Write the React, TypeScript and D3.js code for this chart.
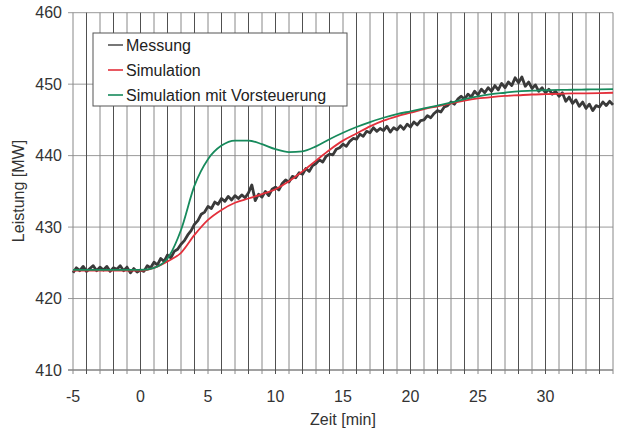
import React from "react";
import * as d3 from "d3";

const X_START = -5;
const X_STEP_MEAS = 0.25;
const messung: number[] = [
  423.6, 424.3, 423.9, 424.5, 423.8, 424.2, 424.6, 423.9, 424.4, 424.0,
  424.5, 423.8, 424.3, 424.1, 424.6, 423.9, 424.4, 423.6, 424.2, 423.7,
  424.0, 423.8, 424.6, 424.3, 425.1, 424.7, 425.6, 425.2, 426.1, 425.7,
  426.6, 426.9, 427.6, 428.1, 428.9, 429.5, 430.4, 430.9, 431.8, 432.1,
  432.9, 432.6, 433.5, 433.2, 434.0, 433.6, 434.3, 433.8, 434.4, 434.0,
  434.5, 434.1, 434.8, 435.9, 433.7, 434.6, 434.2, 435.0, 434.4, 435.3,
  435.6, 435.2, 436.1, 436.6, 436.3, 437.1, 436.9, 437.6, 437.4, 438.2,
  437.8, 438.6, 438.9, 439.4, 439.1, 439.9, 440.2, 440.1, 440.9, 441.1,
  441.6, 441.3, 442.0, 442.4, 442.3, 443.0, 442.7, 443.4, 443.2, 443.9,
  443.4, 443.8, 443.5, 444.1, 443.3, 443.9, 443.6, 444.2, 443.7, 444.4,
  444.0, 444.7, 444.3, 444.9, 445.0, 445.6, 445.3, 445.9, 446.3, 446.1,
  446.8, 447.0, 447.5, 447.2, 447.9, 448.3, 447.9, 448.6, 448.2, 449.0,
  448.5, 449.3, 448.8, 449.5, 449.0, 449.8, 449.2, 450.1, 449.5, 450.3,
  449.8, 450.9, 450.2, 451.0, 449.7, 450.3, 449.4, 449.9, 449.0, 449.5,
  448.8, 449.3, 448.6, 449.0, 448.3, 448.8, 447.6, 448.2, 447.3, 447.8,
  446.9, 447.5, 446.6, 447.2, 446.3, 447.0, 446.8, 447.5, 447.0, 447.6,
  447.1,
];

const simX: number[] = [
  -5, -4, -3, -2, -1, 0, 1, 2, 3, 4, 5, 6, 7, 8, 9, 10, 11, 12, 13, 14, 15,
  16, 17, 18, 19, 20, 21, 22, 23, 24, 25, 26, 27, 28, 29, 30, 31, 32, 33, 34, 35,
];
const simulation: number[] = [
  423.9, 423.9, 423.9, 423.9, 423.9, 423.9, 424.3, 425.2, 426.4, 428.9,
  431.0, 432.4, 433.4, 434.0, 434.6, 435.3, 436.4, 437.8, 439.3, 440.8,
  442.1, 443.1, 444.1, 444.9, 445.5, 446.0, 446.5, 446.9, 447.3, 447.7,
  448.0, 448.2, 448.35, 448.45, 448.55, 448.6, 448.65, 448.7, 448.72, 448.75, 448.8,
];
const vorsteuerung: number[] = [
  424.0, 424.0, 424.0, 424.0, 424.0, 424.0, 424.3, 425.6, 429.6, 435.8,
  439.5, 441.4, 442.1, 442.1, 441.6, 440.9, 440.5, 440.6, 441.3, 442.3,
  443.2, 444.0, 444.7, 445.3, 445.8, 446.2, 446.6, 447.0, 447.4, 447.9,
  448.3, 448.6, 448.8, 449.0, 449.1, 449.15, 449.2, 449.22, 449.25, 449.28, 449.3,
];

const xTicks = [-5, 0, 5, 10, 15, 20, 25, 30];
const yTicks = [410, 420, 430, 440, 450, 460];
const legendLabels = ["Messung", "Simulation", "Simulation mit Vorsteuerung"];
const colors = ["#3a3a3a", "#e3303b", "#178a5c"];

export default function App() {
  const W = 618;
  const H = 428;
  const x = d3.scaleLinear().domain([-5, 35]).range([73, 613]);
  const y = d3.scaleLinear().domain([410, 460]).range([370, 12.7]);
  const font = "'Liberation Sans', Arial, sans-serif";
  const textColor = "#333";

  const measPts: [number, number][] = messung.map((v, i) => [X_START + i * X_STEP_MEAS, v]);
  const line = d3
    .line<[number, number]>()
    .x((d) => x(d[0]))
    .y((d) => y(d[1]));
  const smooth = d3
    .line<[number, number]>()
    .x((d) => x(d[0]))
    .y((d) => y(d[1]))
    .curve(d3.curveMonotoneX);

  const minutes = d3.range(-5, 36, 1);

  return (
    <svg
      width={W}
      height={H}
      style={{ position: "absolute", left: 0, top: 0, background: "#fff" }}
    >
      {yTicks.map((t) => (
        <line
          key={"h" + t}
          x1={68}
          x2={613}
          y1={y(t)}
          y2={y(t)}
          stroke={t === 410 ? "#444" : "#999"}
          strokeWidth={1}
        />
      ))}
      {minutes.map((m) => (
        <line
          key={"v" + m}
          x1={x(m)}
          x2={x(m)}
          y1={y(460)}
          y2={374}
          stroke={m % 2 === 0 ? "#505050" : "#888"}
          strokeWidth={1}
        />
      ))}
      <path d={line(measPts) || ""} fill="none" stroke={colors[0]} strokeWidth={2.8} strokeLinejoin="round" />
      <path
        d={smooth(simX.map((v, i) => [v, simulation[i]] as [number, number])) || ""}
        fill="none"
        stroke={colors[1]}
        strokeWidth={1.8}
      />
      <path
        d={smooth(simX.map((v, i) => [v, vorsteuerung[i]] as [number, number])) || ""}
        fill="none"
        stroke={colors[2]}
        strokeWidth={1.8}
      />
      <rect x={93} y={33} width={254} height={73} fill="#fff" stroke="#555" strokeWidth={1} />
      {legendLabels.map((lab, i) => (
        <g key={lab}>
          <line
            x1={108}
            x2={123}
            y1={45 + i * 25}
            y2={45 + i * 25}
            stroke={i === 0 ? "#555" : colors[i]}
            strokeWidth={1.6}
          />
          <text
            x={126}
            y={45 + i * 25}
            dy="0.35em"
            fontFamily={font}
            fontSize={16}
            fill="#222"
          >
            {lab}
          </text>
        </g>
      ))}
      {yTicks.map((t) => (
        <text
          key={"yl" + t}
          x={62}
          y={y(t)}
          dy="0.35em"
          textAnchor="end"
          fontFamily={font}
          fontSize={16}
          fill={textColor}
        >
          {t}
        </text>
      ))}
      {xTicks.map((t) => (
        <text
          key={"xl" + t}
          x={x(t)}
          y={396}
          dy="0.35em"
          textAnchor="middle"
          fontFamily={font}
          fontSize={16}
          fill={textColor}
        >
          {t}
        </text>
      ))}
      <text x={343} y={419} dy="0.35em" textAnchor="middle" fontFamily={font} fontSize={16} fill={textColor}>
        Zeit [min]
      </text>
      <text
        transform={`translate(18,${191}) rotate(-90)`}
        dy="0.35em"
        textAnchor="middle"
        fontFamily={font}
        fontSize={16}
        fill={textColor}
      >
        Leistung [MW]
      </text>
    </svg>
  );
}
